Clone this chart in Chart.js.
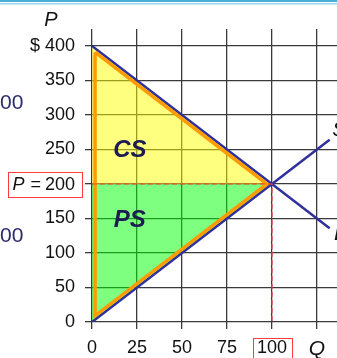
<!DOCTYPE html>
<html>
<head>
<meta charset="utf-8">
<script src="https://cdn.jsdelivr.net/npm/chart.js@4.4.1/dist/chart.umd.min.js"></script>
<style>
  html, body { margin: 0; padding: 0; background: #fff; overflow: hidden; }
  #wrap { width: 337px; height: 358px; }
</style>
</head>
<body>
<div id="wrap"><canvas id="surplus" width="337" height="358"></canvas></div>
<script>
// ---- data ----
const qTicks = [0, 25, 50, 75, 100, 125];
const pTicks = [0, 50, 100, 150, 200, 250, 300, 350, 400];

const demandQ = [0, 132];
const demandP = [400, 136];
const supplyQ = [0, 132];
const supplyP = [0, 264];

const csQ = [0, 100];
const csP = [400, 200];
const psQ = [0, 100];
const psP = [0, 200];

// orange outline sits just inside the big triangle
const outlineQ = [1.7, 97.2, 1.7, 1.7];
const outlineP = [391, 200, 9, 391];

const priceLineQ = [0, 100, 100];
const priceLineP = [200, 200, 0];

const eqQ = 100;
const eqP = 200;

const areaLabels = [
    { text: 'CS', q: 21, p: 249 },
    { text: 'PS', q: 21, p: 147 },
];
const curveLabels = [
    { text: 'S', q: 133.5, p: 278 },
    { text: 'D', q: 134.5, p: 127 },
];

const pts = (xs, ys) => xs.map((x, i) => ({ x, y: ys[i] }));

const FONT = '"Liberation Sans", Arial, sans-serif';
const NAVY = '#1c1c52';
const LINE_BLUE = '#30309a';

// ---- extra text / boxes ----
const decorations = {
    id: 'decorations',
    afterDraw(chart) {
        const { ctx, scales: { x, y } } = chart;
        ctx.save();

        // slide rule at the very top
        ctx.fillStyle = '#4aaed8';
        ctx.fillRect(0, 0, 337, 2);
        ctx.fillStyle = '#9ad6ee';
        ctx.fillRect(0, 3, 337, 1.5);

        // clipped text from neighbouring slide content
        ctx.fillStyle = '#2d2d6e';
        ctx.font = '21px ' + FONT;
        ctx.textAlign = 'left';
        ctx.textBaseline = 'middle';
        ctx.fillText('00', 0, 103);
        ctx.fillText('00', 0, 236);

        // axis title P
        ctx.fillStyle = '#111';
        ctx.font = 'italic 20px ' + FONT;
        ctx.textAlign = 'center';
        ctx.fillText('P', 51, 20);

        // P = 200 tick label in a red box
        const py = y.getPixelForValue(eqP);
        ctx.font = '18px ' + FONT;
        ctx.textAlign = 'right';
        ctx.fillText('200', 75, py + 1);
        const w200 = ctx.measureText('200').width;
        ctx.fillText('=', 75 - w200 - 4, py + 1);
        const wEq = ctx.measureText('=').width;
        ctx.font = 'italic 18px ' + FONT;
        ctx.fillText('P', 75 - w200 - 4 - wEq - 6, py + 1);
        ctx.strokeStyle = '#ff3b3b';
        ctx.lineWidth = 1;
        ctx.strokeRect(8.5, py - 11.5, 74, 25);

        // red box around Q = 100
        const qx = x.getPixelForValue(eqQ);
        ctx.strokeRect(qx - 18.5, 338.5, 39, 30);

        // CS / PS
        ctx.fillStyle = NAVY;
        ctx.font = 'bold italic 24px ' + FONT;
        ctx.textAlign = 'center';
        areaLabels.forEach(l => ctx.fillText(l.text, x.getPixelForValue(l.q), y.getPixelForValue(l.p)));

        // S / D
        ctx.fillStyle = '#111';
        ctx.font = 'italic 21px ' + FONT;
        ctx.textAlign = 'left';
        curveLabels.forEach(l => ctx.fillText(l.text, x.getPixelForValue(l.q), y.getPixelForValue(l.p)));

        ctx.restore();
    }
};

new Chart(document.getElementById('surplus'), {
    type: 'line',
    data: {
        datasets: [
            { data: pts(csQ, csP), fill: { value: eqP }, backgroundColor: 'rgba(255,255,0,0.5)', borderWidth: 0, pointRadius: 0, order: 6 },
            { data: pts(psQ, psP), fill: { value: eqP }, backgroundColor: 'rgba(0,255,0,0.5)', borderWidth: 0, pointRadius: 0, order: 6 },
            { data: pts(demandQ, demandP), borderColor: LINE_BLUE, borderWidth: 2.5, pointRadius: 0, fill: false, order: 4 },
            { data: pts(supplyQ, supplyP), borderColor: LINE_BLUE, borderWidth: 2.5, pointRadius: 0, fill: false, order: 4 },
            { data: pts(outlineQ, outlineP), borderColor: '#ff9a00', borderWidth: 3.5, pointRadius: 0, fill: false, borderJoinStyle: 'miter', order: 3 },
            { data: pts(priceLineQ, priceLineP), borderColor: '#ff3b3b', borderWidth: 1.2, borderDash: [5, 3], pointRadius: 0, fill: false, order: 2 },
        ],
    },
    options: {
        responsive: false,
        animation: false,
        events: [],
        layout: { padding: { top: 29, right: 0, left: 0, bottom: 0 } },
        plugins: { legend: { display: false }, tooltip: { enabled: false } },
        scales: {
            x: {
                type: 'linear',
                min: 0,
                max: 136.1,
                afterFit: s => { s.height = 36; },
                afterBuildTicks: s => { s.ticks = qTicks.map(v => ({ value: v })); },
                grid: { color: '#3a3a3a', lineWidth: 1.3, tickLength: 7, drawTicks: true },
                border: { display: false },
                ticks: {
                    padding: 8,
                    color: '#111',
                    maxRotation: 0,
                    autoSkip: false,
                    font: c => c.tick && c.tick.value === 125
                        ? { family: FONT, size: 21, style: 'italic' }
                        : { family: FONT, size: 18 },
                    callback: v => v === 125 ? 'Q' : String(v),
                },
            },
            y: {
                min: 0,
                max: 424.6,
                afterFit: s => { s.width = 92; },
                afterBuildTicks: s => { s.ticks = pTicks.map(v => ({ value: v })); },
                grid: { color: '#3a3a3a', lineWidth: 1.3, tickLength: 7, drawTicks: true },
                border: { display: false },
                ticks: {
                    padding: 10,
                    color: '#111',
                    autoSkip: false,
                    font: { family: FONT, size: 18 },
                    callback: v => v === 400 ? '$ 400' : v === eqP ? '' : String(v),
                },
            },
        },
    },
    plugins: [decorations],
});
</script>
</body>
</html>
